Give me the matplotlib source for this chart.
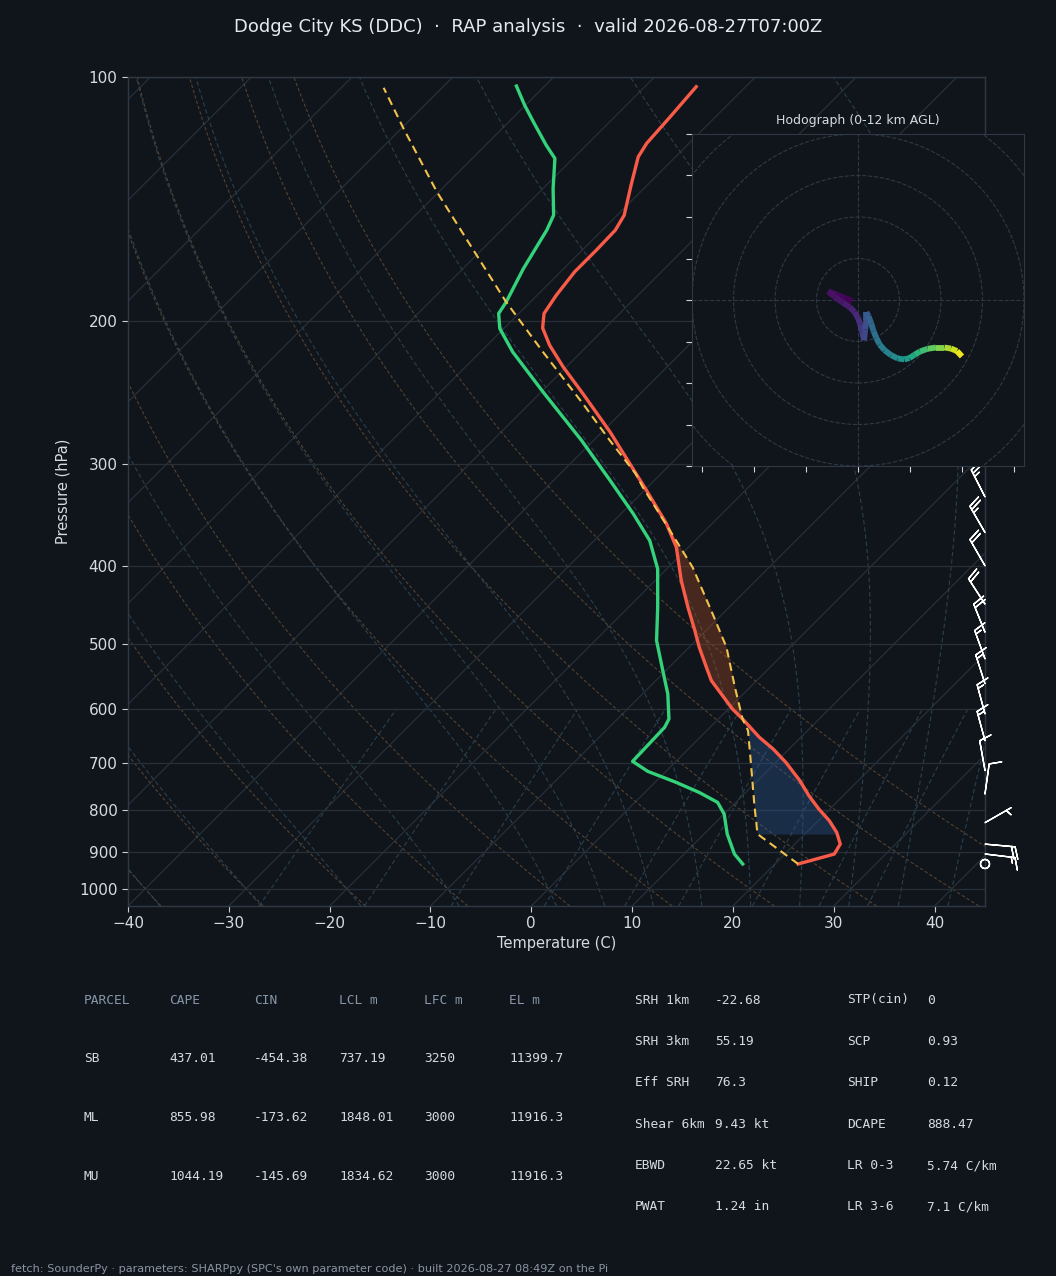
import numpy as np
import matplotlib
matplotlib.use("Agg")
import matplotlib.pyplot as plt
import matplotlib.transforms as mtransforms
from matplotlib.collections import LineCollection
from matplotlib.patches import Circle
from matplotlib.ticker import FixedLocator, NullLocator, FixedFormatter

# ---------------------------------------------------------------- data
TITLE = "Dodge City KS (DDC)  \u00b7  RAP analysis  \u00b7  valid 2026-08-27T07:00Z"
FOOTER = ("fetch: SounderPy \u00b7 parameters: SHARPpy (SPC's own parameter code) "
          "\u00b7 built 2026-08-27 08:49Z on the Pi")

# environmental temperature (hPa, degC)
temp_p = [932, 906.2, 880.8, 852.3, 824.4, 797.5, 768.0, 735.8, 698.6, 672.5,
          650.8, 617.7, 600.4, 575.3, 554.0, 533.6, 504.1, 480.7, 449.9, 417.2,
          379.5, 355.1, 323.0, 303.7, 273.7, 245.5, 227.6, 214.0, 203.8, 195.6,
          185.7, 173.8, 163.4, 154.4, 148.0, 135.9, 125.4, 120.7, 111.9, 102.8]
temp_c = [22.3, 24.9, 24.5, 23.0, 21.1, 18.9, 16.6, 14.2, 11.0, 8.4,
          5.9, 2.4, 0.4, -2.2, -4.5, -6.3, -9.0, -11.1, -14.1, -17.4,
          -21.2, -24.5, -29.8, -33.3, -39.2, -45.7, -50.3, -53.8, -56.2, -57.5,
          -58.1, -58.6, -58.6, -58.7, -59.3, -61.6, -63.7, -64.2, -64.5, -64.9]

# dewpoint (hPa, degC)
dewp_p = [932, 906.2, 856.2, 808.8, 782.6, 760.9, 739.4, 716.7, 696.6, 663.0,
          632.5, 617.7, 575.3, 538.6, 494.6, 449.9, 403.6, 372.4, 345.1, 314.0,
          280.3, 244.4, 218.1, 204.1, 195.6, 189.3, 172.2, 154.4, 148.0, 137.2,
          126.0, 121.3, 113.5, 108.3, 102.6]
dewp_c = [16.8, 15.0, 12.3, 10.0, 8.2, 5.4, 2.1, -1.8, -4.3, -4.4,
          -4.5, -4.9, -7.5, -10.3, -13.9, -17.1, -20.9, -24.5, -28.8, -34.4,
          -41.2, -49.8, -56.8, -60.4, -62.0, -62.4, -64.0, -65.5, -66.3, -69.0,
          -71.8, -74.0, -77.6, -80.1, -82.8]

# surface-based parcel path (hPa, degC)
parcel_p = [932, 856.2, 786.2, 701.8, 638.5, 617.7, 564.6, 504.1, 458.4, 401.7,
            361.9, 320.0, 308.2, 280.3, 252.6, 218.1, 189.3, 161.1, 138.5, 115.7, 103.1]
parcel_c = [22.3, 15.3, 12.0, 7.7, 4.1, 2.4, -1.5, -6.3, -11.0, -17.6,
            -23.5, -30.5, -32.5, -38.4, -44.7, -53.8, -62.4, -71.6, -80.2, -89.8, -95.8]

# wind barbs (hPa, kt)
barb_p = [932, 906, 881, 829, 764, 715, 657, 609, 559, 521, 483, 446, 400, 364, 329,
          290, 250, 200, 150]
barb_u = [-1.0, -14.9, -17.9, -6.1, -1.1, 1.4, 3.4, 3.9, 4.6, 5.8, 6.7, 10.9, 11.0, 12.0, 12.3,
          18.0, 26.0, 36.0, 45.0]
barb_v = [0.0, 1.8, 1.6, -3.5, -7.9, -7.9, -12.6, -14.5, -14.3, -16.0, -16.7, -16.8, -19.1, -20.8, -24.1,
          -27.0, -26.0, -23.0, -24.0]

# hodograph (kt) coloured by height AGL (km)
hodo_u = [-2.7, -6.4, -10.4, -14.4, -11.2, -7.2, -4.0, -1.6, 0.0, 1.1, 2.1, 2.9, 3.5, 4.0,
          4.0, 5.1, 6.4, 7.5, 8.8, 10.4, 12.8, 16.0, 19.2, 22.4, 24.8, 27.2, 29.9, 33.6,
          37.6, 41.6, 44.8, 47.7, 50.1]
hodo_v = [-0.5, 1.0, 2.6, 4.2, 1.4, -1.4, -3.4, -5.9, -8.6, -11.8, -15.8, -19.4, -14.2, -9.4,
          -5.9, -7.8, -11.4, -15.0, -18.2, -21.4, -24.2, -26.6, -28.2, -28.6, -28.0, -26.4,
          -24.8, -23.5, -22.9, -22.9, -23.4, -24.6, -27.2]
hodo_z = [0.0, 0.15, 0.3, 0.45, 0.6, 0.8, 1.0, 1.25, 1.5, 1.8, 2.1, 2.4, 2.7, 3.0,
          3.3, 3.6, 3.9, 4.2, 4.5, 4.8, 5.1, 5.5, 5.9, 6.4, 6.9, 7.4, 8.0, 8.7,
          9.4, 10.1, 10.8, 11.4, 12.0]

# parameter tables
tbl_header = ["PARCEL", "CAPE", "CIN", "LCL m", "LFC m", "EL m"]
tbl_parcel = ["SB", "ML", "MU"]
tbl_cape = [437.01, 855.98, 1044.19]
tbl_cin = [-454.38, -173.62, -145.69]
tbl_lcl = [737.19, 1848.01, 1834.62]
tbl_lfc = [3250, 3000, 3000]
tbl_el = [11399.7, 11916.3, 11916.3]

kin_labels = ["SRH 1km", "SRH 3km", "Eff SRH", "Shear 6km", "EBWD", "PWAT"]
kin_values = ["-22.68", "55.19", "76.3", "9.43 kt", "22.65 kt", "1.24 in"]
idx_labels = ["STP(cin)", "SCP", "SHIP", "DCAPE", "LR 0-3", "LR 3-6"]
idx_values = ["0", "0.93", "0.12", "888.47", "5.74 C/km", "7.1 C/km"]

x_ticks = [-40, -30, -20, -10, 0, 10, 20, 30, 40]
p_ticks = [100, 200, 300, 400, 500, 600, 700, 800, 900, 1000]

# ---------------------------------------------------------------- style
BG = "#10151b"
GRID = "#272f39"
SPINE = "#2f3945"
TXT = "#d6dbe1"
DRY = "#54422f"
MOIST = "#29404e"
W, H = 1056, 1276

fig = plt.figure(figsize=(W / 100, H / 100), dpi=100, facecolor=BG)

ax_l, ax_b, ax_w, ax_h = 128 / W, 1 - 906 / H, 857 / W, 829 / H
ax = fig.add_axes([ax_l, ax_b, ax_w, ax_h], facecolor=BG)
ax.set_yscale("log")
ax.set_xlim(-40, 45)
ax.set_ylim(1050, 100)
ax.set_autoscale_on(False)

# skew (45 deg in display space)
k = (ax_h * H) / (ax_w * W)
skew = mtransforms.Affine2D(np.array([[1.0, k, 0.0], [0.0, 1.0, 0.0], [0.0, 0.0, 1.0]]))
tr = ax.transScale + ax.transLimits + skew + ax.transAxes

for s in ax.spines.values():
    s.set_color(SPINE)
    s.set_linewidth(1.0)
ax.yaxis.set_major_locator(FixedLocator(p_ticks))
ax.yaxis.set_major_formatter(FixedFormatter([str(p) for p in p_ticks]))
ax.yaxis.set_minor_locator(NullLocator())
ax.xaxis.set_major_locator(FixedLocator(x_ticks))
ax.tick_params(colors="#c9ced5", labelcolor=TXT, labelsize=11, length=4)
ax.yaxis.grid(True, color=GRID, lw=0.9)
ax.set_xlabel("Temperature (C)", color=TXT, fontsize=10.5, labelpad=3)
ax.set_ylabel("Pressure (hPa)", color=TXT, fontsize=10.5, labelpad=6)

# isotherms
for t in np.arange(-170, 50, 10):
    ax.plot([t, t], [1050, 100], transform=tr, color=GRID, lw=0.9, zorder=1)

pp = np.geomspace(1050, 100, 200)
# dry adiabats
for th in np.arange(-40, 51, 10):
    tt = (th + 273.15) * (pp / 1000.0) ** 0.2857 - 273.15
    ax.plot(tt, pp, transform=tr, color=DRY, lw=0.8, ls=(0, (3, 2)), zorder=1)

# moist adiabats (RK4 integration of the pseudo-adiabatic lapse rate)
Rd, Cp, Lv, eps = 287.04, 1005.7, 2.501e6, 0.622


def dTdp(p, T):
    es = 6.112 * np.exp(17.67 * (T - 273.15) / (T - 29.65))
    rs = eps * es / (p - es)
    return ((Rd * T + Lv * rs) / p) / (Cp + (Lv * Lv * rs * eps) / (Rd * T * T))


def integrate(T0, plist):
    out = [T0]
    T = T0
    for i in range(len(plist) - 1):
        p, h = plist[i], plist[i + 1] - plist[i]
        k1 = dTdp(p, T)
        k2 = dTdp(p + h / 2, T + h / 2 * k1)
        k3 = dTdp(p + h / 2, T + h / 2 * k2)
        k4 = dTdp(p + h, T + h * k3)
        T = T + h / 6 * (k1 + 2 * k2 + 2 * k3 + k4)
        out.append(T)
    return np.array(out)


m_t0 = np.concatenate((np.arange(-40, 0, 10), np.arange(0, 46, 5))) + 273.15
p_up = np.linspace(1000, 100, 361)
p_dn = np.linspace(1000, 1050, 11)
T_up = integrate(m_t0, p_up)
T_dn = integrate(m_t0, p_dn)
for i in range(len(m_t0)):
    pm = np.concatenate((p_dn[::-1], p_up[1:]))
    tm = np.concatenate((T_dn[::-1, i], T_up[1:, i])) - 273.15
    ax.plot(tm, pm, transform=tr, color=MOIST, lw=0.8, ls=(0, (4, 2.5)), zorder=1)

# mixing-ratio lines
pmix = np.linspace(1050, 600, 50)
for w in [0.0004, 0.001, 0.002, 0.004, 0.007, 0.01, 0.016, 0.024, 0.032]:
    e = w * pmix / (eps + w)
    a = np.log(e / 6.112)
    td = 243.5 * a / (17.67 - a)
    ax.plot(td, pmix, transform=tr, color=MOIST, lw=0.8, ls=(0, (4, 2.5)), zorder=1)

# CAPE / CIN shading
def on_grid(pg, p, t):
    return np.interp(np.log(pg), np.log(p)[::-1], np.asarray(t)[::-1])


lcl_p = parcel_p[1]
pg = np.geomspace(lcl_p, 300, 600)
te = on_grid(pg, temp_p, temp_c)
tp = on_grid(pg, parcel_p, parcel_c)
pos = tp >= te
lfc_i = np.argmax(pos)
el_i = lfc_i + np.argmax(~pos[lfc_i:])
cin_mask = np.zeros_like(pos)
cin_mask[:lfc_i + 1] = True
cape_mask = np.zeros_like(pos)
cape_mask[lfc_i:el_i + 1] = True
ax.fill_betweenx(pg, tp, te, where=cin_mask, transform=tr, color="#2f5a9a", alpha=0.35,
                 lw=0, zorder=2)
ax.fill_betweenx(pg, tp, te, where=cape_mask, transform=tr, color="#b04e25", alpha=0.35,
                 lw=0, zorder=2)

# profiles
ax.plot(temp_c, temp_p, transform=tr, color="#f95b48", lw=2.4, zorder=4,
        solid_joinstyle="round")
ax.plot(dewp_c, dewp_p, transform=tr, color="#34d27a", lw=2.4, zorder=4,
        solid_joinstyle="round")
ax.plot(parcel_c, parcel_p, transform=tr, color="#f2c24b", lw=1.5, ls=(0, (4, 2.5)),
        zorder=4)

# barbs on the right edge
ax.barbs(np.ones(len(barb_p)), barb_p, barb_u, barb_v,
         transform=ax.get_yaxis_transform(), clip_on=False, color="white",
         lw=1.0, length=6.6, zorder=5)

# ---------------------------------------------------------------- hodograph
hax = fig.add_axes([692 / W, 1 - 466 / H, 332 / W, 332 / H], facecolor=BG, zorder=10)
hax.set_xlim(-80, 80)
hax.set_ylim(-80, 80)
for s in hax.spines.values():
    s.set_color(SPINE)
hax.xaxis.set_major_locator(FixedLocator([-75, -50, -25, 0, 25, 50, 75]))
hax.yaxis.set_major_locator(FixedLocator(list(range(-80, 81, 20))))
hax.tick_params(colors="#d0d5db", labelleft=False, labelbottom=False, length=4)
for r in range(20, 101, 20):
    hax.add_patch(Circle((0, 0), r, fill=False, ls="--", color=SPINE, lw=0.8))
hax.axhline(0, ls="--", color=SPINE, lw=0.8)
hax.axvline(0, ls="--", color=SPINE, lw=0.8)
pts = np.column_stack([hodo_u, hodo_v])
segs = np.stack([pts[:-1], pts[1:]], axis=1)
zmid = 0.5 * (np.asarray(hodo_z[:-1]) + np.asarray(hodo_z[1:]))
lc = LineCollection(segs, cmap="viridis", linewidths=4.2, zorder=3)
lc.set_array(zmid)
lc.set_clim(min(hodo_z), max(hodo_z))
hax.add_collection(lc)
hax.set_title("Hodograph (0-12 km AGL)", color=TXT, fontsize=9, pad=7)

# ---------------------------------------------------------------- text
fig.text(0.5, 1 - 27 / H, TITLE, ha="center", va="center", fontsize=13, color="#e6e9ed")

MONO = "DejaVu Sans Mono"
HDR = "#8797a9"
col_x = [84, 169, 254, 339, 424, 509]
row_y = [1058.7, 1117.3, 1176.0]
for cx, h in zip(col_x, tbl_header):
    fig.text(cx / W, 1 - 1000 / H, h, family=MONO, fontsize=9.3, color=HDR, va="center")
for i, ry in enumerate(row_y):
    vals = [tbl_parcel[i], str(tbl_cape[i]), str(tbl_cin[i]), str(tbl_lcl[i]),
            str(tbl_lfc[i]), str(tbl_el[i])]
    for cx, v in zip(col_x, vals):
        fig.text(cx / W, 1 - ry / H, v, family=MONO, fontsize=9.3, color=TXT, va="center")

for i in range(6):
    y = 1000 + i * 41.4
    fig.text(635 / W, 1 - y / H, kin_labels[i], family=MONO, fontsize=9.3, color=TXT, va="center")
    fig.text(715 / W, 1 - y / H, kin_values[i], family=MONO, fontsize=9.3, color=TXT, va="center")
    fig.text(847 / W, 1 - y / H, idx_labels[i], family=MONO, fontsize=9.3, color=TXT, va="center")
    fig.text(927 / W, 1 - y / H, idx_values[i], family=MONO, fontsize=9.3, color=TXT, va="center")

fig.text(11 / W, 1 - 1269 / H, FOOTER, fontsize=8.15, color="#8a95a3", va="center")

fig.savefig("out.png", dpi=100, facecolor=BG)
